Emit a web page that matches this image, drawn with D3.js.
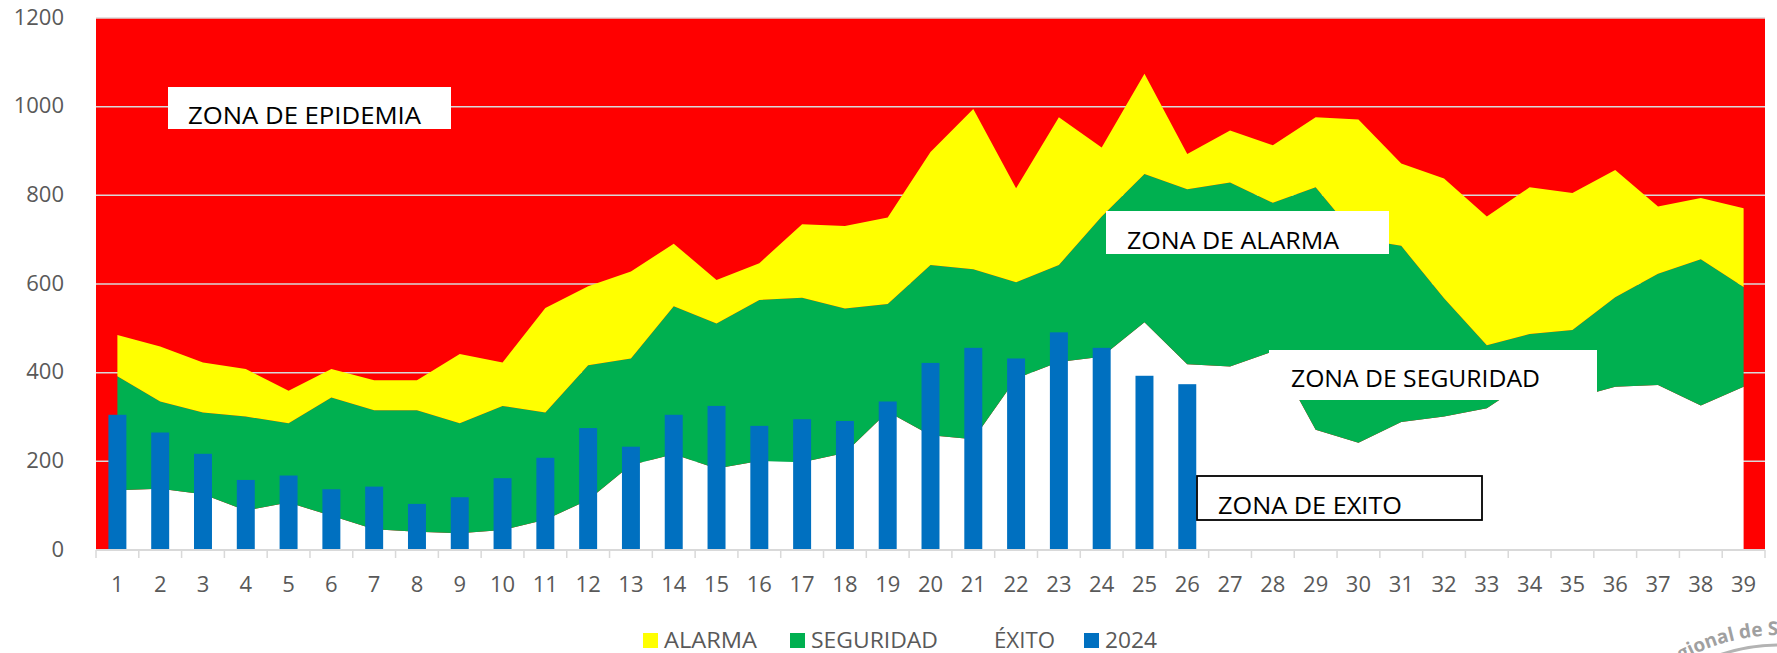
<!doctype html>
<html>
<head>
<meta charset="utf-8">
<script type='text/javascript' src='https://d3js.org/d3.v7.min.js'></script>
<style>
body { margin:0; background:#fff; }
text { font-family:'Open Sans', sans-serif; }
</style>
</head>
<body>
<script>
var width = 1777, height = 653;
var L = 96, R = 1765, T = 18, B = 550;

// datos del canal endemico (limites superiores de cada zona)
var semanas = [1,2,3,4,5,6,7,8,9,10,11,12,13,14,15,16,17,18,19,20,21,22,23,24,25,26,27,28,29,30,31,32,33,34,35,36,37,38,39];
var limExito = [135,138,126,89,107,77,47,41,38,45,68,113,192,216,184,201,198,219,312,259,250,387,424,436,514,419,414,448,271,242,289,301,320,384,342,368,372,326,368];
var limSeguridad = [392,335,310,301,286,344,315,315,286,325,310,417,432,550,511,564,569,545,555,643,633,604,643,752,848,814,829,783,818,702,686,568,462,487,496,570,623,656,593];
var limAlarma = [485,459,423,408,359,408,383,383,442,423,546,595,628,691,609,647,735,731,750,898,995,816,976,908,1074,893,946,913,976,971,872,838,752,818,805,857,775,794,771];
// casos 2024 (semanas 1 a 26)
var casos2024 = [305,265,217,158,168,137,143,104,119,162,208,275,233,305,325,280,295,291,335,422,456,432,491,456,393,374];
var yTicks = [0,200,400,600,800,1000,1200];
var leyenda = ['ALARMA','SEGURIDAD','ÉXITO','2024'];
var zonas = ['ZONA DE EPIDEMIA','ZONA DE ALARMA','ZONA DE SEGURIDAD','ZONA DE EXITO'];

var svg = d3.select('body').append('svg').attr('width',width).attr('height',height);
svg.append('rect').attr('width',width).attr('height',height).attr('fill','#fff');

var x = d3.scaleBand().domain(semanas).range([L,R]);
var xBar = d3.scaleBand().domain(semanas).range([L,R]).paddingInner(0.58).paddingOuter(0.29);
var y = d3.scaleLinear().domain([0,1200]).range([B,T]);
function cx(i) { return x(semanas[i]) + x.bandwidth()/2; }

// fondo rojo = zona de epidemia
svg.append('rect').attr('x',L).attr('y',y(1200)).attr('width',R-L).attr('height',B-y(1200)).attr('fill','#FF0000');

// lineas de cuadricula
svg.selectAll('line.grid').data(yTicks.slice(1)).join('line')
  .attr('class','grid')
  .attr('x1',L).attr('x2',R)
  .attr('y1',function(d){return y(d)}).attr('y2',function(d){return y(d)})
  .attr('stroke','#D9D9D9').attr('stroke-width',1.5);

// areas apiladas
var capas = [
  {lo:null, hi:limExito, color:'#FFFFFF'},
  {lo:limExito, hi:limSeguridad, color:'#00B050'},
  {lo:limSeguridad, hi:limAlarma, color:'#FFFF00'}
];
capas.forEach(function(c){
  var area = d3.area()
    .x(function(d,i){return cx(i)})
    .y0(function(d,i){return c.lo ? y(c.lo[i]) : y(0)})
    .y1(function(d,i){return y(c.hi[i])});
  svg.append('path').datum(semanas).attr('d',area).attr('fill',c.color);
});

// barras 2024
svg.selectAll('rect.bar').data(casos2024).join('rect')
  .attr('class','bar')
  .attr('x',function(d,i){return xBar(semanas[i])})
  .attr('width',xBar.bandwidth())
  .attr('y',function(d){return y(d)})
  .attr('height',function(d){return y(0)-y(d)})
  .attr('fill','#0070C0');

// cuadros de texto de las zonas
var cajas = [
  {x:168, y:87, w:283, h:42, tx:188, ty:124, tl:233, borde:false},
  {x:1106, y:211, w:283, h:43, tx:1127, ty:249, tl:212, borde:false},
  {x:1269, y:350, w:328, h:50, tx:1291, ty:387, tl:249, borde:false},
  {x:1197, y:476, w:285, h:44, tx:1218, ty:514, tl:184, borde:true}
];
cajas.forEach(function(c,i){
  svg.append('rect').attr('x',c.x).attr('y',c.y).attr('width',c.w).attr('height',c.h)
    .attr('fill','#fff')
    .attr('stroke',c.borde ? '#000' : 'none').attr('stroke-width',1.8);
  svg.append('text').attr('x',c.tx).attr('y',c.ty)
    .attr('font-size',24).attr('fill','#000')
    .attr('textLength',c.tl).attr('lengthAdjust','spacingAndGlyphs')
    .text(zonas[i]);
});

// eje x
var ejeX = svg.append('g').attr('transform','translate(0,'+B+')')
  .call(d3.axisBottom(x).tickSize(0));
ejeX.select('.domain').remove();
ejeX.selectAll('text').attr('font-size',22).attr('fill','#595959')
  .attr('font-family',"'Open Sans', sans-serif").attr('dy',0).attr('y',42);
svg.append('line').attr('x1',L).attr('x2',R).attr('y1',B).attr('y2',B)
  .attr('stroke','#D9D9D9').attr('stroke-width',2);
var marcas = semanas.map(function(d){return x(d)}).concat([R]);
svg.selectAll('line.tk').data(marcas).join('line')
  .attr('class','tk')
  .attr('x1',function(d){return d}).attr('x2',function(d){return d})
  .attr('y1',B).attr('y2',B+8)
  .attr('stroke','#D9D9D9').attr('stroke-width',1.5);

// eje y
var ejeY = svg.append('g').attr('transform','translate(64,0)')
  .call(d3.axisLeft(y).tickValues(yTicks).tickFormat(d3.format('d')).tickSize(0).tickPadding(0));
ejeY.select('.domain').remove();
ejeY.selectAll('text').attr('font-size',22).attr('fill','#595959')
  .attr('font-family',"'Open Sans', sans-serif").attr('dy','0.28em');

// leyenda
var colLeyenda = ['#FFFF00','#00B050','#FFFFFF','#0070C0'];
var posLeyenda = [643, 790, 973, 1084];
var anchoTexto = [93, 127, 61, 52];
leyenda.forEach(function(t,i){
  svg.append('rect').attr('x',posLeyenda[i]).attr('y',633).attr('width',15).attr('height',15)
    .attr('fill',colLeyenda[i]);
  svg.append('text').attr('x',posLeyenda[i]+21).attr('y',648)
    .attr('font-size',22).attr('fill','#595959')
    .attr('textLength',anchoTexto[i]).attr('lengthAdjust','spacingAndGlyphs')
    .text(t);
});

// sello parcialmente visible en la esquina
var sx = 1780, sy = 835, sr = 200;
svg.append('path').attr('id','arcoSello')
  .attr('d','M'+(sx-sr)+','+sy+' A'+sr+','+sr+' 0 0,1 '+(sx+sr)+','+sy)
  .attr('fill','none');
svg.append('text').attr('font-size',19).attr('font-weight','bold').attr('fill','#a0a0a0')
  .append('textPath').attr('href','#arcoSello').attr('startOffset',187)
  .text('Regional de Salud');
svg.append('circle').attr('cx',sx).attr('cy',sy).attr('r',190)
  .attr('fill','none').attr('stroke','#b3b3b3').attr('stroke-width',3);

console.log('ready..');
</script>
</body>
</html>
